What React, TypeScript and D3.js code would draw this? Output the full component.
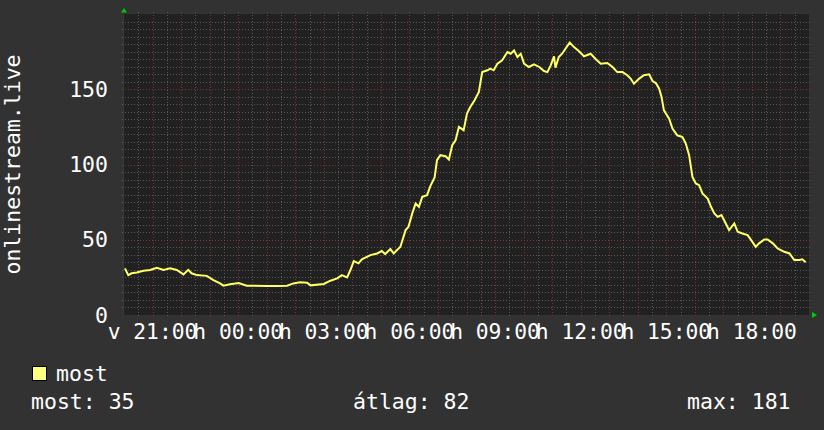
import React, { useRef, useEffect } from "react";
import * as d3 from "d3";

const width = 824;
const height = 430;
const plot = { left: 124, right: 809, top: 14, bottom: 315 };

// viewer samples (local clock time, the window runs Sunday 20:00 -> Monday 20:00)
const sampleTimes = [
  "20:02", "20:09", "20:16", "20:27", "20:41", "20:55", "21:09", "21:23", "21:37", "21:51",
  "22:05", "22:15", "22:22", "22:33", "22:54", "23:08", "23:22", "23:29", "23:43", "00:01",
  "00:18", "01:00", "01:21", "01:43", "01:56", "02:10", "02:25", "02:32", "03:00", "03:14",
  "03:28", "03:38", "03:49", "03:56", "04:03", "04:13", "04:20", "04:38", "04:52", "05:02",
  "05:09", "05:20", "05:27", "05:41", "05:52", "05:58", "06:06", "06:13", "06:20", "06:27",
  "06:37", "06:44", "06:53", "06:58", "07:05", "07:16", "07:23", "07:30", "07:37", "07:44",
  "07:54", "08:01", "08:08", "08:17", "08:26", "08:33", "08:44", "08:50", "08:57", "09:05",
  "09:15", "09:26", "09:33", "09:40", "09:47", "09:54", "10:01", "10:11", "10:22", "10:33",
  "10:43", "10:50", "10:57", "11:04", "11:07", "11:14", "11:21", "11:28", "11:37", "11:46",
  "11:56", "12:07", "12:21", "12:31", "12:42", "12:56", "13:07", "13:17", "13:28", "13:38",
  "13:45", "13:52", "14:03", "14:13", "14:24", "14:31", "14:38", "14:45", "14:50", "14:55",
  "15:06", "15:13", "15:23", "15:34", "15:41", "15:48", "15:55", "16:02", "16:09", "16:16",
  "16:27", "16:34", "16:41", "16:48", "16:56", "17:05", "17:12", "17:23", "17:30", "17:40",
  "17:51", "18:01", "18:08", "18:15", "18:26", "18:33", "18:44", "18:54", "19:08", "19:19",
  "19:29", "19:40", "19:46", "19:53",
];
const viewers = [
  31, 26.5, 27.7, 28.3, 29.4, 29.9, 31.4, 29.9, 31, 29.9,
  27, 30, 27.7, 26.5, 26, 23.2, 21, 19.5, 20.4, 21.2,
  19.5, 19.2, 19.2, 19.5, 21, 21.7, 21.4, 19.7, 20.6, 22.8,
  24.3, 26.5, 25, 29.9, 35.8, 34.3, 37, 39.8, 40.9, 42.5,
  40.5, 43.8, 40.9, 45.3, 56.4, 58.6, 67.5, 74.1, 71.9, 78.5,
  79.6, 85.6, 91.4, 102.9, 106.2, 105.5, 103.3, 112.8, 116.1, 125,
  122.8, 133.8, 138.2, 142.7, 148.2, 161.4, 162.6, 163.7, 162.6, 167,
  169.2, 174.7, 173.6, 175.8, 171.4, 173.6, 167, 164.8, 166.6, 164.8,
  162.1, 161.4, 165.9, 171.9, 164.4, 171.4, 173.6, 176.9, 181, 178,
  175.4, 171.9, 173.6, 170.3, 167, 167.4, 164.8, 161.4, 161.4, 159.3,
  157.1, 153.7, 157.1, 159.3, 159.9, 155.5, 154.1, 150.4, 144.9, 136,
  130.5, 123.9, 119.4, 118.3, 113.9, 106.2, 91.8, 87.4, 86.3, 80.8,
  77.4, 71.9, 67.5, 65.2, 66.4, 60.8, 56.4, 60.8, 55.3, 54.2,
  53.1, 48.6, 45.3, 47.6, 50.2, 50.2, 47.6, 44.3, 42, 40.9,
  36.5, 36.5, 37, 35,
];
const dayAbbr = ["v", "h", "k", "sze", "cs", "p", "szo"];
const yTicks = [0, 50, 100, 150];
const yTitle = "onlinestream.live";
const seriesName = "most";
const statLabels = ["most", "átlag", "max"];
const statValues = [35, 82, 181];

const start = new Date(Date.UTC(2024, 2, 10, 20, 0));
const end = new Date(Date.UTC(2024, 2, 11, 20, 0));

const toDate = (s: string) => {
  const [h, m] = s.split(":").map(Number);
  const day = h >= 20 ? 10 : 11;
  return new Date(Date.UTC(2024, 2, day, h, m));
};

const font = "'DejaVu Sans Mono', monospace";

const App = () => {
  const ref = useRef<SVGSVGElement>(null);

  useEffect(() => {
    document.body.style.margin = "0";
    const svg = d3.select(ref.current);
    svg.selectAll("*").remove();
    svg.attr("width", width).attr("height", height);

    const x = d3.scaleUtc().domain([start, end]).range([plot.left, plot.right]);
    const y = d3.scaleLinear().domain([0, 200]).range([plot.bottom, plot.top]);

    svg.append("rect").attr("width", width).attr("height", height).attr("fill", "#323232");
    svg
      .append("rect")
      .attr("x", plot.left)
      .attr("y", plot.top)
      .attr("width", plot.right - plot.left)
      .attr("height", plot.bottom - plot.top)
      .attr("fill", "#212121");

    const grid = svg.append("g").attr("stroke-dasharray", "1,2").attr("stroke-width", 1);

    // horizontal grid
    d3.range(5, 200, 5).forEach((v) => {
      grid
        .append("line")
        .attr("x1", plot.left - 2)
        .attr("x2", plot.right + 2)
        .attr("y1", Math.round(y(v)) + 0.5)
        .attr("y2", Math.round(y(v)) + 0.5)
        .attr("stroke", v % 50 === 0 ? "#7a3434" : "#585858");
    });

    // vertical grid
    d3.utcMinute
      .every(30)!
      .range(d3.utcMinute.offset(start, 1), end)
      .forEach((d) => {
        const major = d.getUTCMinutes() === 0;
        grid
          .append("line")
          .attr("x1", Math.round(x(d)) + 0.5)
          .attr("x2", Math.round(x(d)) + 0.5)
          .attr("y1", plot.top - 2)
          .attr("y2", plot.bottom + 2)
          .attr("stroke", major ? "#7a3434" : "#585858");
      });

    // axis lines
    svg
      .append("line")
      .attr("x1", plot.left - 0.5)
      .attr("x2", plot.left - 0.5)
      .attr("y1", plot.top)
      .attr("y2", plot.bottom)
      .attr("stroke", "#3a3a3a");

    // series
    const line = d3
      .line<number>()
      .x((_, i) => x(toDate(sampleTimes[i])))
      .y((d) => y(d));
    svg
      .append("path")
      .datum(viewers)
      .attr("fill", "none")
      .attr("stroke", "#ffff66")
      .attr("stroke-width", 2)
      .attr("stroke-linejoin", "miter")
      .attr("d", line);

    // arrows
    svg
      .append("path")
      .attr("d", `M${plot.left - 3},12.5 L${plot.left + 3},12.5 L${plot.left},8 Z`)
      .attr("fill", "#00cc00");
    svg
      .append("path")
      .attr("d", `M812,${plot.bottom - 3} L812,${plot.bottom + 3} L817,${plot.bottom} Z`)
      .attr("fill", "#00cc00");

    const text = svg
      .append("g")
      .attr("font-family", font)
      .attr("font-size", 21.5)
      .attr("fill", "#ffffff");

    // y ticks
    text
      .selectAll(".ytick")
      .data(yTicks)
      .enter()
      .append("text")
      .attr("x", 108)
      .attr("y", (d) => y(d))
      .attr("dy", "0.36em")
      .attr("text-anchor", "end")
      .text((d) => d);

    // x ticks
    const fmt = d3.utcFormat("%H:%M");
    text
      .selectAll(".xtick")
      .data(d3.utcHour.every(3)!.range(d3.utcMinute.offset(start, 1), end))
      .enter()
      .append("text")
      .attr("x", (d) => x(d))
      .attr("y", 338.5)
      .attr("text-anchor", "middle")
      .attr("font-size", 21.3)
      .text((d) => `${dayAbbr[d.getUTCDay()]} ${fmt(d)}`);

    // y title
    text
      .append("text")
      .attr("transform", `translate(20,${(plot.top + plot.bottom) / 2}) rotate(-90)`)
      .attr("text-anchor", "middle")
      .text(yTitle);

    // legend
    svg
      .append("rect")
      .attr("x", 32.5)
      .attr("y", 366.5)
      .attr("width", 14)
      .attr("height", 14)
      .attr("fill", "#ffff80")
      .attr("stroke", "#000");
    text.append("text").attr("x", 56).attr("y", 381).text(seriesName);

    const statX = [31, 353, 687];
    statLabels.forEach((l, i) => {
      text
        .append("text")
        .attr("x", statX[i])
        .attr("y", 409)
        .text(`${l}: ${statValues[i]}`);
    });
  }, []);

  return <svg ref={ref} style={{ display: "block" }}></svg>;
};

export default App;
